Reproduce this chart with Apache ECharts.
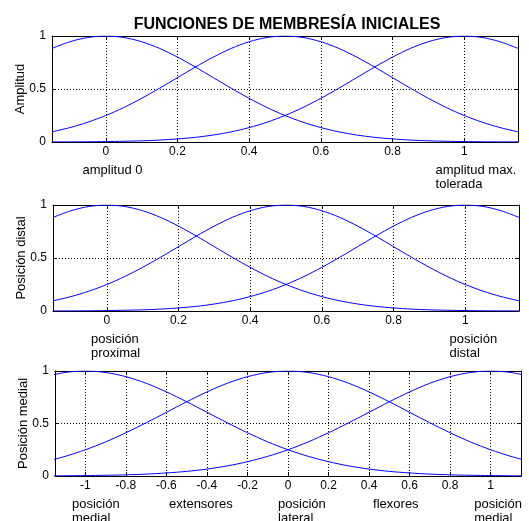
<!DOCTYPE html>
<html>
<head>
<meta charset="UTF-8">
<title>Funciones de membresía iniciales</title>
<style>
    html, body { margin: 0; padding: 0; background: #fff; }
    #chartArea { width: 529px; height: 521px; }
</style>
</head>
<body>
<div id="chartArea"></div>
<script src="https://cdn.jsdelivr.net/npm/echarts@6/dist/echarts.min.js"></script>
<script>
// x samples for the two upper plots
var xPos = [-0.15, -0.1, -0.05, 0, 0.05, 0.1, 0.15, 0.2, 0.25, 0.3, 0.35, 0.4, 0.45, 0.5,
            0.55, 0.6, 0.65, 0.7, 0.75, 0.8, 0.85, 0.9, 0.95, 1, 1.05, 1.1, 1.15];

// Amplitud
var ampLow  = [0.883, 0.946, 0.986, 1, 0.986, 0.946, 0.883, 0.801, 0.707, 0.607, 0.507, 0.412, 0.325, 0.25,
               0.187, 0.136, 0.096, 0.066, 0.044, 0.029, 0.018, 0.011, 0.007, 0.004, 0.002, 0.001, 0.001];
var ampMid  = [0.096, 0.136, 0.187, 0.25, 0.325, 0.412, 0.507, 0.607, 0.707, 0.801, 0.883, 0.946, 0.986, 1,
               0.986, 0.946, 0.883, 0.801, 0.707, 0.607, 0.507, 0.412, 0.325, 0.25, 0.187, 0.136, 0.096];
var ampHigh = [0.001, 0.001, 0.002, 0.004, 0.007, 0.011, 0.018, 0.029, 0.044, 0.066, 0.096, 0.136, 0.187, 0.25,
               0.325, 0.412, 0.507, 0.607, 0.707, 0.801, 0.883, 0.946, 0.986, 1, 0.986, 0.946, 0.883];

// Posición distal
var distProx = [0.883, 0.946, 0.986, 1, 0.986, 0.946, 0.883, 0.801, 0.707, 0.607, 0.507, 0.412, 0.325, 0.25,
                0.187, 0.136, 0.096, 0.066, 0.044, 0.029, 0.018, 0.011, 0.007, 0.004, 0.002, 0.001, 0.001];
var distMid  = [0.096, 0.136, 0.187, 0.25, 0.325, 0.412, 0.507, 0.607, 0.707, 0.801, 0.883, 0.946, 0.986, 1,
                0.986, 0.946, 0.883, 0.801, 0.707, 0.607, 0.507, 0.412, 0.325, 0.25, 0.187, 0.136, 0.096];
var distDist = [0.001, 0.001, 0.002, 0.004, 0.007, 0.011, 0.018, 0.029, 0.044, 0.066, 0.096, 0.136, 0.187, 0.25,
                0.325, 0.412, 0.507, 0.607, 0.707, 0.801, 0.883, 0.946, 0.986, 1, 0.986, 0.946, 0.883];

// Posición medial
var xMed = [-1.2, -1.1, -1, -0.9, -0.8, -0.7, -0.6, -0.5, -0.4, -0.3, -0.2, -0.1, 0,
            0.1, 0.2, 0.3, 0.4, 0.5, 0.6, 0.7, 0.8, 0.9, 1, 1.1, 1.2];
var medExt = [0.946, 0.986, 1, 0.986, 0.946, 0.883, 0.801, 0.707, 0.607, 0.507, 0.412, 0.325, 0.25,
              0.187, 0.136, 0.096, 0.066, 0.044, 0.029, 0.018, 0.011, 0.007, 0.004, 0.002, 0.001];
var medLat = [0.136, 0.187, 0.25, 0.325, 0.412, 0.507, 0.607, 0.707, 0.801, 0.883, 0.946, 0.986, 1,
              0.986, 0.946, 0.883, 0.801, 0.707, 0.607, 0.507, 0.412, 0.325, 0.25, 0.187, 0.136];
var medFlx = [0.001, 0.002, 0.004, 0.007, 0.011, 0.018, 0.029, 0.044, 0.066, 0.096, 0.136, 0.187, 0.25,
              0.325, 0.412, 0.507, 0.607, 0.707, 0.801, 0.883, 0.946, 0.986, 1, 0.986, 0.946];

var yNames = ['Amplitud', 'Posición distal', 'Posición medial'];

// text under each plot: [x value, text]
var notesTop = [[-0.065, 'amplitud 0'], [0.92, 'amplitud max.\ntolerada']];
var notesMid = [[-0.044, 'posición\nproximal'], [0.956, 'posición\ndistal']];
var notesBot = [[-1.066, 'posición\nmedial'], [-0.587, 'extensores'], [-0.049, 'posición\nlateral'],
                [0.42, 'flexores'], [0.919, 'posición\nmedial']];

var FONT = 'Liberation Sans, Arial, sans-serif';

function zip(xs, ys) {
    return xs.map(function (x, i) { return [x, ys[i]]; });
}

var grids = [
    { left: 52, top: 36, width: 466, height: 106 },
    { left: 53, top: 205, width: 466, height: 106 },
    { left: 55, top: 371, width: 466, height: 105 }
];
var ranges = [[-0.15, 1.15, 6], [-0.15, 1.15, 6], [-1.15, 1.15, 11]];

var xAxes = [], yAxes = [];
grids.forEach(function (g, i) {
    var r = ranges[i];
    // bottom axis with labels and grid
    xAxes.push({
        type: 'value', gridIndex: i, min: r[0], max: r[1], splitNumber: r[2],
        axisLine: { onZero: false, lineStyle: { color: '#000', width: 1 } },
        axisTick: { inside: true, length: 4, lineStyle: { color: '#000' } },
        axisLabel: { margin: 4, color: '#000', fontSize: 12, fontFamily: FONT,
                     showMinLabel: false, showMaxLabel: false },
        splitLine: { show: true, lineStyle: { color: '#000', type: [1, 2], width: 1 } }
    });
    // top mirror
    xAxes.push({
        type: 'value', gridIndex: i, position: 'top', min: r[0], max: r[1], splitNumber: r[2],
        axisLine: { onZero: false, lineStyle: { color: '#000', width: 1 } },
        axisTick: { inside: true, length: 4, lineStyle: { color: '#000' } },
        axisLabel: { show: false },
        splitLine: { show: false }
    });
    yAxes.push({
        type: 'value', gridIndex: i, min: 0, max: 1, interval: 0.5,
        name: yNames[i], nameLocation: 'middle', nameRotate: 90, nameGap: 25,
        nameMoveOverlap: false,
        nameTextStyle: { color: '#000', fontSize: 13, fontFamily: FONT },
        axisLine: { show: true, onZero: false, lineStyle: { color: '#000', width: 1 } },
        axisTick: { show: true, inside: true, length: 4, lineStyle: { color: '#000' } },
        axisLabel: { margin: 6, color: '#000', fontSize: 12, fontFamily: FONT },
        splitLine: { show: true, lineStyle: { color: '#000', type: [1, 2], width: 1 } }
    });
    yAxes.push({
        type: 'value', gridIndex: i, position: 'right', min: 0, max: 1, interval: 0.5,
        axisLine: { show: true, onZero: false, lineStyle: { color: '#000', width: 1 } },
        axisTick: { show: true, inside: true, length: 4, lineStyle: { color: '#000' } },
        axisLabel: { show: false },
        splitLine: { show: false }
    });
});

function curve(i, xs, ys) {
    return {
        type: 'line', xAxisIndex: i * 2, yAxisIndex: i * 2,
        data: zip(xs, ys), showSymbol: false, smooth: 0.3, silent: true,
        lineStyle: { color: '#0000ff', width: 1 }
    };
}

var myChart = echarts.init(document.getElementById('chartArea'));
myChart.setOption({
    animation: false,
    backgroundColor: '#fff',
    title: {
        text: 'FUNCIONES DE MEMBRESÍA INICIALES',
        left: 282, top: 12, textAlign: 'center',
        textStyle: { color: '#000', fontSize: 16, fontWeight: 'bold', fontFamily: FONT }
    },
    grid: grids,
    xAxis: xAxes,
    yAxis: yAxes,
    series: [
        curve(0, xPos, ampLow), curve(0, xPos, ampMid), curve(0, xPos, ampHigh),
        curve(1, xPos, distProx), curve(1, xPos, distMid), curve(1, xPos, distDist),
        curve(2, xMed, medExt), curve(2, xMed, medLat), curve(2, xMed, medFlx)
    ]
});

// annotations under the axes, placed through the x scale
var gfx = [];
[notesTop, notesMid, notesBot].forEach(function (notes, i) {
    var g = grids[i];
    notes.forEach(function (n) {
        var px = myChart.convertToPixel({ xAxisIndex: i * 2 }, n[0]);
        gfx.push({
            type: 'text', left: px, top: g.top + g.height + 21, silent: true,
            style: { text: n[1], fill: '#000', font: '13px ' + FONT, lineHeight: 14 }
        });
    });
});
myChart.setOption({ graphic: gfx });
</script>
</body>
</html>
